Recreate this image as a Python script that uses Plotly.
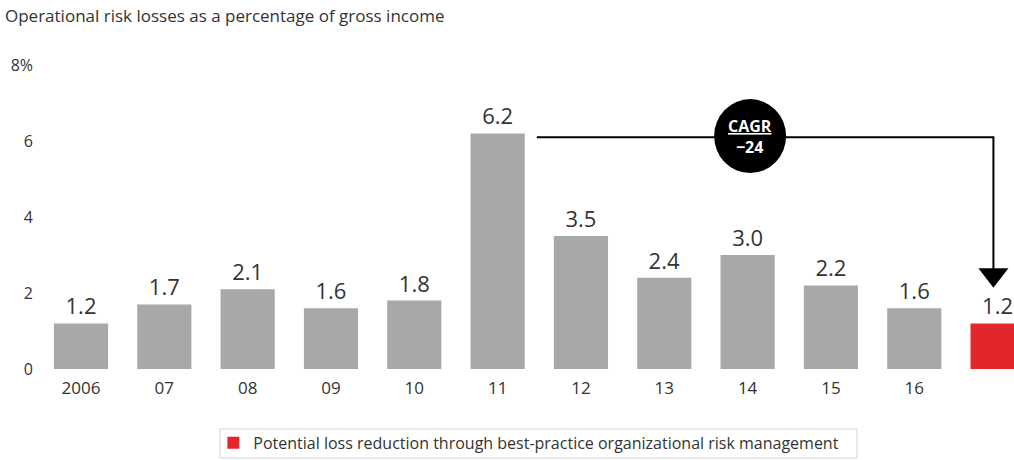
import plotly.graph_objects as go

# Operational risk losses as % of gross income, 2006-2016, plus target level
years = ["2006", "07", "08", "09", "10", "11", "12", "13", "14", "15", "16"]
losses = [1.2, 1.7, 2.1, 1.6, 1.8, 6.2, 3.5, 2.4, 3.0, 2.2, 1.6]
target = 1.2
cagr_label = "−24"
y_ticks = [0, 2, 4, 6, 8]
y_tick_labels = ["0", "2", "4", "6", "8%"]

title_text = "Operational risk losses as a percentage of gross income"
legend_text = "Potential loss reduction through best-practice organizational risk management"

FONT = "Open Sans"
TEXT = "#333333"
GREY = "#a7a8aa"
RED = "#e3262b"

n = len(years)
x_hist = list(range(n))
x_target = n  # position of the red target bar

fig = go.Figure()

fig.add_trace(go.Bar(
    x=x_hist, y=losses, width=0.65,
    marker=dict(color=GREY, line=dict(width=0)),
    text=[f"{v:.1f}" for v in losses], textposition="outside",
    textfont=dict(family=FONT, size=22, color=TEXT),
    cliponaxis=False, showlegend=False, hoverinfo="skip",
))

fig.add_trace(go.Bar(
    x=[x_target], y=[target], width=0.65,
    marker=dict(color=RED, line=dict(width=0)),
    text=[f"{target:.1f}"], textposition="outside",
    textfont=dict(family=FONT, size=22, color=TEXT),
    cliponaxis=False, name=legend_text, showlegend=True, hoverinfo="skip",
))

# Elbow connector from the 2011 peak down to the target bar
peak_i = losses.index(max(losses))
line_y = max(losses) - 0.1
arrow_x = x_target - 0.05
fig.add_trace(go.Scatter(
    x=[peak_i + 0.47, arrow_x, arrow_x],
    y=[line_y, line_y, target + 1.3],
    mode="lines", line=dict(color="#000000", width=2),
    showlegend=False, hoverinfo="skip", cliponaxis=False,
))
fig.add_trace(go.Scatter(
    x=[arrow_x], y=[target + 1.28],
    mode="markers",
    marker=dict(symbol="triangle-down", size=26, color="#000000", line=dict(width=0)),
    showlegend=False, hoverinfo="skip", cliponaxis=False,
))

# CAGR badge on the connector
badge_x = peak_i + 3.03
fig.add_shape(
    type="circle", xref="x", yref="y",
    xsizemode="pixel", ysizemode="pixel",
    xanchor=badge_x, yanchor=line_y + 0.03,
    x0=-36, x1=36, y0=-37, y1=37,
    fillcolor="#000000", line=dict(width=0), layer="above",
)
fig.add_annotation(
    x=badge_x, y=line_y + 0.03, xref="x", yref="y",
    text=f"<b><u>CAGR</u></b><br><b>{cagr_label}</b>",
    showarrow=False, font=dict(family=FONT, size=16, color="#ffffff"),
    align="center",
)

fig.update_layout(
    width=1014, height=460,
    margin=dict(l=40, r=0, t=65, b=91),
    paper_bgcolor="#ffffff", plot_bgcolor="#ffffff",
    title=dict(
        text=title_text, xref="container", yref="container",
        x=5 / 1014, y=1 - 16 / 460, xanchor="left", yanchor="middle",
        font=dict(family=FONT, size=17, color=TEXT),
    ),
    xaxis=dict(
        range=[-0.492, 11.197],
        tickmode="array", tickvals=x_hist, ticktext=years,
        showgrid=False, zeroline=False, showline=False, ticks="",
        tickfont=dict(family=FONT, size=17, color=TEXT),
        ticklabelstandoff=7,
    ),
    yaxis=dict(
        range=[0, 8],
        tickmode="array", tickvals=y_ticks, ticktext=y_tick_labels,
        showgrid=False, zeroline=False, showline=False, ticks="",
        tickfont=dict(family=FONT, size=16, color=TEXT),
        ticklabelstandoff=6,
    ),
    legend=dict(
        orientation="h", x=0.178, y=-0.243, xanchor="left", yanchor="middle",
        font=dict(family=FONT, size=16, color=TEXT),
        bgcolor="rgba(0,0,0,0)", borderwidth=0,
    ),
    showlegend=True,
)

# Legend frame
fig.add_shape(
    type="rect", xref="paper", yref="paper",
    x0=(220 - 40) / 974, x1=(857 - 40) / 974,
    y0=-(458 - 369) / 304, y1=-(429 - 369) / 304,
    line=dict(color="#d4d4d4", width=1), fillcolor="rgba(0,0,0,0)",
)

fig.write_html("out.html")
